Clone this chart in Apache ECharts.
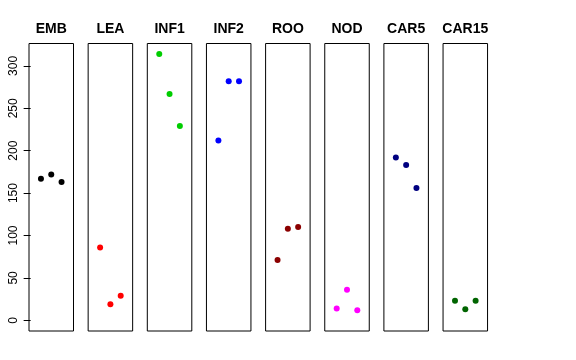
<!DOCTYPE html>
<html><head><meta charset="utf-8">
<script src="https://cdn.jsdelivr.net/npm/echarts@6/dist/echarts.min.js"></script>
<style>html,body{margin:0;padding:0;background:#fff}#c{width:576px;height:360px}</style>
</head><body><div id="c"></div>
<script>
const categories = ['EMB','LEA','INF1','INF2','ROO','NOD','CAR5','CAR15'];
const emb = [167, 172, 163];
const lea = [86, 19, 29];
const inf1 = [314, 267, 229];
const inf2 = [212, 282, 282];
const roo = [71, 108, 110];
const nod = [14, 36, 12];
const car5 = [192, 183, 156];
const car15 = [23, 13, 23];
const yTicks = [0, 50, 100, 150, 200, 250, 300];
const positions = [1, 2, 3];

const seriesValues = [emb, lea, inf1, inf2, roo, nod, car5, car15];
const colors = ['#000000','#FF0000','#00CD00','#0000FF','#8B0000','#FF00FF','#000080','#006400'];

const FONT = 'Liberation Sans, Arial, Helvetica, sans-serif';
const gridLeft0 = 29, gridStep = 59.15, gridW = 44.5, gridTop = 43.5, gridH = 287.5;

const grids = [], xAxes = [], yAxes = [], series = [], graphics = [];
categories.forEach((cat, i) => {
  const left = gridLeft0 + i * gridStep;
  grids.push({left: left, top: gridTop, width: gridW, height: gridH, show: true,
    borderColor: '#000', borderWidth: 1, backgroundColor: 'transparent', containLabel: false});
  xAxes.push({gridIndex: i, type: 'value', min: -0.16, max: 4.16, show: false});
  yAxes.push({gridIndex: i, type: 'value', min: -12.6, max: 326.4, show: i === 0,
    splitLine: {show: false}, axisLine: {show: false},
    axisTick: {show: true, length: 7, inside: false, customValues: yTicks, lineStyle: {color: '#000', width: 1}},
    axisLabel: {show: true, customValues: yTicks, rotate: 90, margin: 9, color: '#000', fontSize: 12, fontFamily: FONT}
  });
  series.push({type: 'scatter', xAxisIndex: i, yAxisIndex: i,
    data: seriesValues[i].map((v, k) => [positions[k], v]),
    symbol: 'circle', symbolSize: 6, itemStyle: {color: colors[i], opacity: 1}, silent: true, animation: false});
  graphics.push({type: 'text', x: left + gridW / 2, y: 29.6,
    style: {text: cat, font: 'bold 14px ' + FONT, fill: '#000', align: 'center', verticalAlign: 'middle',
      textAlign: 'center', textVerticalAlign: 'middle'}});
});

const chart = echarts.init(document.getElementById('c'), null, {renderer: 'canvas'});
chart.setOption({
  animation: false,
  backgroundColor: '#fff',
  grid: grids, xAxis: xAxes, yAxis: yAxes, series: series, graphic: graphics
});
</script></body></html>
